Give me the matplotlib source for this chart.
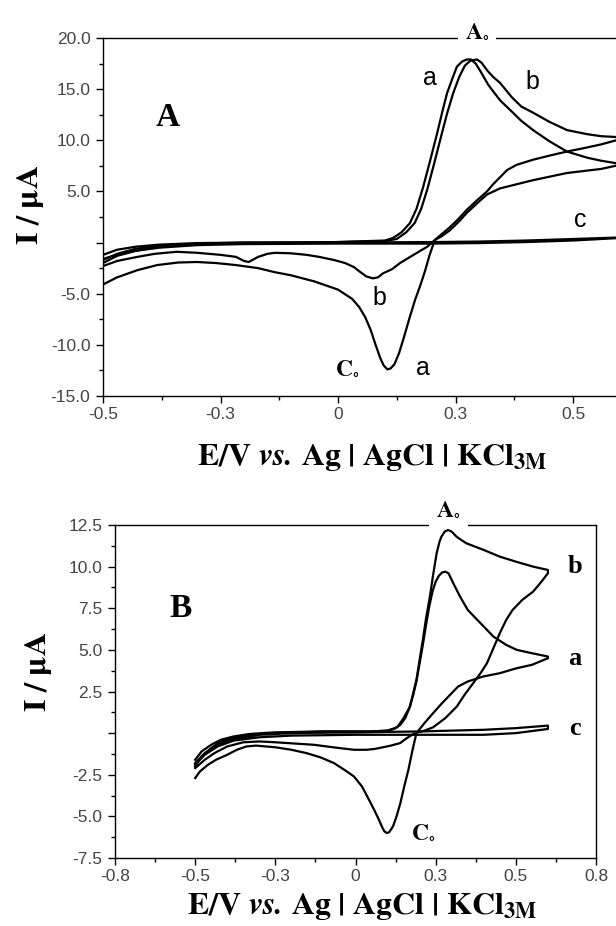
import matplotlib
matplotlib.use('Agg')
import matplotlib.pyplot as plt
from matplotlib.ticker import MultipleLocator

plt.rcParams['mathtext.fontset'] = 'stix'
plt.rcParams['font.family'] = ['Liberation Sans', 'DejaVu Sans']

# ---- panel A data (E / V, I / uA), forward scan then reverse scan ----
A_a_E = [-0.5, -0.47, -0.43, -0.38, -0.3, -0.2, -0.1, 0.0, 0.1, 0.117, 0.135, 0.153, 0.167, 0.181,
         0.196, 0.211, 0.222, 0.232, 0.243, 0.253, 0.264, 0.274, 0.283, 0.293, 0.305, 0.32, 0.345,
         0.37, 0.39, 0.415, 0.45, 0.487, 0.53, 0.56, 0.6,
         0.6, 0.56, 0.487, 0.415, 0.345, 0.317, 0.295, 0.274, 0.256, 0.238, 0.22, 0.206, 0.195,
         0.185, 0.175, 0.164, 0.152, 0.14, 0.13, 0.12, 0.112, 0.105, 0.097, 0.09, 0.08, 0.07, 0.058,
         0.045, 0.03, 0.0, -0.05, -0.1, -0.134, -0.17, -0.217, -0.26, -0.3, -0.34, -0.385, -0.427,
         -0.47, -0.5]
A_a_I = [-2.0, -1.3, -0.8, -0.4, -0.15, -0.05, 0.0, 0.05, 0.2, 0.45, 1.0, 1.9, 3.3, 5.4,
         8.0, 10.7, 12.8, 14.6, 16.0, 17.2, 17.7, 17.9, 17.9, 17.5, 16.6, 15.4, 13.9,
         12.8, 11.9, 11.0, 9.9, 8.9, 8.3, 8.0, 7.7,
         7.6, 7.2, 6.8, 6.1, 5.3, 4.7, 3.8, 2.9, 2.0, 1.2, 0.6, 0.25, -1.2,
         -2.8, -4.2, -5.6, -7.4, -9.3, -10.8, -11.9, -12.3, -12.4, -12.0, -11.3, -10.0, -8.6, -7.3,
         -6.3, -5.5, -4.6, -3.8, -3.2, -2.9, -2.5, -2.2, -2.0, -1.9, -1.95, -2.2, -2.7,
         -3.4, -4.1]

A_b_E = [-0.5, -0.47, -0.43, -0.38, -0.3, -0.2, -0.1, 0.0, 0.1, 0.125, 0.145, 0.163, 0.177, 0.19,
         0.205, 0.22, 0.232, 0.245, 0.258, 0.27, 0.282, 0.296, 0.305, 0.318, 0.33, 0.345, 0.37,
         0.39, 0.415, 0.45, 0.487, 0.53, 0.56, 0.6,
         0.6, 0.56, 0.52, 0.487, 0.45, 0.415, 0.38, 0.36, 0.345, 0.33, 0.317, 0.295, 0.274, 0.256,
         0.238, 0.22, 0.206, 0.19, 0.168, 0.15, 0.132, 0.115, 0.096, 0.085, 0.074, 0.06, 0.045,
         0.034, 0.015, -0.009, -0.04, -0.067, -0.1, -0.134, -0.15, -0.17, -0.19, -0.2, -0.217,
         -0.25, -0.3, -0.343, -0.39, -0.427, -0.47, -0.5]
A_b_I = [-1.7, -1.1, -0.6, -0.3, -0.1, 0.0, 0.0, 0.05, 0.15, 0.35, 1.0, 1.9, 3.3, 5.2,
         7.8, 10.5, 12.6, 14.6, 16.2, 17.3, 17.8, 17.9, 17.6, 16.8, 16.2, 15.6, 14.2,
         13.3, 12.7, 11.8, 11.0, 10.6, 10.4, 10.3,
         10.1, 9.6, 9.2, 8.9, 8.5, 8.1, 7.6, 7.1, 6.4, 5.7, 5.0, 4.1, 3.2, 2.3,
         1.5, 0.8, 0.25, -0.4, -1.0, -1.5, -2.0, -2.6, -3.0, -3.4, -3.5, -3.3, -2.8,
         -2.4, -2.0, -1.7, -1.4, -1.2, -1.05, -1.0, -1.1, -1.4, -1.9, -1.8, -1.4,
         -1.2, -1.0, -0.9, -1.1, -1.4, -1.8, -2.3]

A_c_E = [-0.5, -0.47, -0.43, -0.38, -0.3, -0.2, 0.0, 0.2, 0.3, 0.4, 0.5, 0.6,
         0.6, 0.5, 0.4, 0.3, 0.2, 0.0, -0.2, -0.3, -0.38, -0.43, -0.47, -0.5]
A_c_I = [-1.2, -0.7, -0.4, -0.2, -0.05, 0.0, 0.0, 0.05, 0.1, 0.2, 0.35, 0.5,
         0.45, 0.2, 0.05, -0.05, -0.1, -0.1, -0.15, -0.25, -0.5, -0.8, -1.2, -1.6]

# ---- panel B data ----
B_a_E = [-0.5, -0.48, -0.45, -0.42, -0.38, -0.33, -0.25, -0.1, 0.05, 0.1, 0.12, 0.14, 0.155, 0.168,
         0.18, 0.19, 0.2, 0.21, 0.22, 0.23, 0.24, 0.25, 0.26, 0.27, 0.28, 0.29, 0.305, 0.326, 0.35,
         0.38, 0.43, 0.47, 0.503, 0.55, 0.6,
         0.6, 0.55, 0.503, 0.45, 0.398, 0.35, 0.32, 0.295, 0.27, 0.242, 0.215, 0.19, 0.178, 0.165,
         0.152, 0.14, 0.128, 0.117, 0.105, 0.098, 0.09, 0.082, 0.073, 0.058, 0.042, 0.02, -0.005,
         -0.035, -0.067, -0.11, -0.153, -0.2, -0.25, -0.31, -0.34, -0.37, -0.4, -0.435, -0.46,
         -0.485, -0.5]
B_a_I = [-2.0, -1.4, -0.9, -0.5, -0.25, -0.1, 0.0, 0.1, 0.1, 0.15, 0.25, 0.5, 0.9, 1.5,
         2.3, 3.1, 4.2, 5.3, 6.5, 7.6, 8.5, 9.1, 9.45, 9.65, 9.7, 9.6, 9.0, 8.2, 7.4,
         6.8, 5.8, 5.3, 5.0, 4.8, 4.6,
         4.5, 4.1, 3.9, 3.6, 3.4, 3.1, 2.8, 2.3, 1.8, 1.2, 0.6, 0.0, -1.0, -2.2,
         -3.2, -4.2, -5.0, -5.6, -5.95, -6.0, -5.9, -5.6, -5.2, -4.6, -4.0, -3.2, -2.6,
         -2.2, -1.8, -1.45, -1.2, -1.0, -0.85, -0.75, -0.8, -1.0, -1.3, -1.6, -1.9,
         -2.3, -2.7]

B_b_E = [-0.5, -0.48, -0.45, -0.42, -0.38, -0.33, -0.25, -0.1, 0.05, 0.1, 0.13, 0.15, 0.17, 0.18,
         0.19, 0.2, 0.21, 0.22, 0.232, 0.242, 0.253, 0.262, 0.268, 0.278, 0.289, 0.3, 0.315, 0.33,
         0.346, 0.4, 0.45, 0.5, 0.554, 0.6,
         0.6, 0.58, 0.554, 0.52, 0.49, 0.47, 0.45, 0.43, 0.41, 0.39, 0.367, 0.34, 0.316, 0.28,
         0.242, 0.215, 0.185, 0.16, 0.139, 0.11, 0.086, 0.06, 0.035, -0.005, -0.07, -0.13, -0.25,
         -0.3, -0.35, -0.4, -0.44, -0.47, -0.5]
B_b_I = [-1.6, -1.1, -0.7, -0.4, -0.2, -0.05, 0.05, 0.1, 0.1, 0.15, 0.35, 0.9, 1.6, 2.4,
         3.2, 4.4, 5.6, 6.9, 8.2, 9.5, 10.8, 11.5, 11.8, 12.1, 12.2, 12.1, 11.8, 11.6,
         11.4, 11.0, 10.6, 10.3, 10.0, 9.8,
         9.6, 9.1, 8.5, 8.0, 7.4, 6.8, 6.0, 5.1, 4.2, 3.6, 3.0, 2.3, 1.6, 0.9,
         0.35, 0.15, 0.0, -0.3, -0.6, -0.75, -0.85, -0.95, -1.0, -1.0, -0.85, -0.7, -0.55,
         -0.5, -0.55, -0.8, -1.2, -1.6, -2.1]

B_c_E = [-0.5, -0.47, -0.43, -0.38, -0.3, -0.2, 0.0, 0.2, 0.3, 0.4, 0.5, 0.6,
         0.6, 0.5, 0.4, 0.2, 0.0, -0.2, -0.3, -0.38, -0.43, -0.47, -0.5]
B_c_I = [-1.8, -1.2, -0.7, -0.35, -0.1, 0.0, 0.05, 0.1, 0.15, 0.2, 0.3, 0.45,
         0.25, 0.0, -0.1, -0.1, -0.1, -0.15, -0.25, -0.45, -0.8, -1.3, -1.9]

# tick labels as printed in the original
A_xticks = [-0.5, -0.25, 0, 0.25, 0.5]
A_xlabels = ['-0.5', '-0.3', '0', '0.3', '0.5']
A_yticks = [20, 15, 10, 5, 0, -5, -10, -15]
A_ylabels = ['20.0', '15.0', '10.0', '5.0', '', '-5.0', '-10.0', '-15.0']
B_xticks = [-0.75, -0.5, -0.25, 0, 0.25, 0.5, 0.75]
B_xlabels = ['-0.8', '-0.5', '-0.3', '0', '0.3', '0.5', '0.8']
B_yticks = [12.5, 10, 7.5, 5, 2.5, 0, -2.5, -5, -7.5]
B_ylabels = ['12.5', '10.0', '7.5', '5.0', '2.5', '', '-2.5', '-5.0', '-7.5']

XLABEL = r'$\mathbf{E/V}\ \mathbfit{vs.}\,\mathbf{Ag\ |\ AgCl\ |\ KCl_{3M}}$'
YLABEL = r'$\mathbf{I\ /\ \mu A}$'

fig = plt.figure(figsize=(6.16, 9.26), dpi=100)


def style_axes(ax, xt, xl, yt, yl, xminor, yminor):
    ax.set_xticks(xt)
    ax.set_xticklabels(xl)
    ax.set_yticks(yt)
    ax.set_yticklabels(yl)
    ax.xaxis.set_minor_locator(MultipleLocator(xminor))
    ax.yaxis.set_minor_locator(MultipleLocator(yminor))
    ax.tick_params(which='major', direction='out', length=5, width=1.0,
                   labelsize=12.5, labelcolor='#444444', pad=3)
    ax.tick_params(which='minor', direction='out', length=3, width=1.0)
    ax.tick_params(axis='y', pad=4)
    for s in ax.spines.values():
        s.set_linewidth(1.0)


# ---------------- panel A ----------------
axA = fig.add_axes([103 / 616, 1 - 396 / 926, 517 / 616, 358 / 926])
for E, I in [(A_a_E, A_a_I), (A_b_E, A_b_I), (A_c_E, A_c_I)]:
    axA.plot(E, I, color='black', lw=1.6)
axA.set_xlim(-0.5, 0.6)
axA.set_ylim(-15, 20)
style_axes(axA, A_xticks, A_xlabels, A_yticks, A_ylabels, 0.125, 2.5)

axA.text(-0.362, 12.2, 'A', family='Liberation Serif', weight='bold', fontsize=24,
         ha='center', va='center')
axA.text(0.296, 20.6, r'$\mathbf{A}_{\circ}$', fontsize=17, ha='center', va='center',
         zorder=5, clip_on=False,
         bbox=dict(facecolor='white', edgecolor='none', pad=5))
axA.text(0.196, 16.1, 'a', fontsize=18, ha='center', va='center')
axA.text(0.413, 15.7, 'b', fontsize=18, ha='center', va='center')
axA.text(0.515, 2.2, 'c', fontsize=18, ha='center', va='center')
axA.text(0.089, -5.4, 'b', fontsize=18, ha='center', va='center')
axA.text(0.181, -12.3, 'a', fontsize=18, ha='center', va='center')
axA.text(0.02, -12.3, r'$\mathbf{C}_{\circ}$', fontsize=17, ha='center', va='center')

fig.text(30 / 616, 1 - 205 / 926, YLABEL, fontsize=23, rotation=90, ha='center', va='center')
fig.text(372 / 616, 1 - 457 / 926, XLABEL, fontsize=23, ha='center', va='center')

# ---------------- panel B ----------------
axB = fig.add_axes([115 / 616, 1 - 858 / 926, 481 / 616, 333 / 926])
for E, I in [(B_a_E, B_a_I), (B_b_E, B_b_I), (B_c_E, B_c_I)]:
    axB.plot(E, I, color='black', lw=1.6)
axB.set_xlim(-0.75, 0.75)
axB.set_ylim(-7.5, 12.5)
style_axes(axB, B_xticks, B_xlabels, B_yticks, B_ylabels, 0.125, 1.25)

axB.text(-0.544, 7.5, 'B', family='Liberation Serif', weight='bold', fontsize=24,
         ha='center', va='center')
axB.text(0.29, 13.4, r'$\mathbf{A}_{\circ}$', fontsize=17, ha='center', va='center',
         zorder=5, clip_on=False,
         bbox=dict(facecolor='white', edgecolor='none', pad=5))
axB.text(0.684, 9.98, 'b', family='Liberation Serif', weight='bold', fontsize=19,
         ha='center', va='center')
axB.text(0.684, 4.5, 'a', family='Liberation Serif', weight='bold', fontsize=19,
         ha='center', va='center')
axB.text(0.684, 0.3, 'c', family='Liberation Serif', weight='bold', fontsize=19,
         ha='center', va='center')
axB.text(0.21, -6.0, r'$\mathbf{C}_{\circ}$', fontsize=17, ha='center', va='center')

fig.text(39 / 616, 1 - 672 / 926, YLABEL, fontsize=23, rotation=90, ha='center', va='center')
fig.text(362 / 616, 1 - 907 / 926, XLABEL, fontsize=23, ha='center', va='center')

fig.savefig('out.png', dpi=100, facecolor='white')
